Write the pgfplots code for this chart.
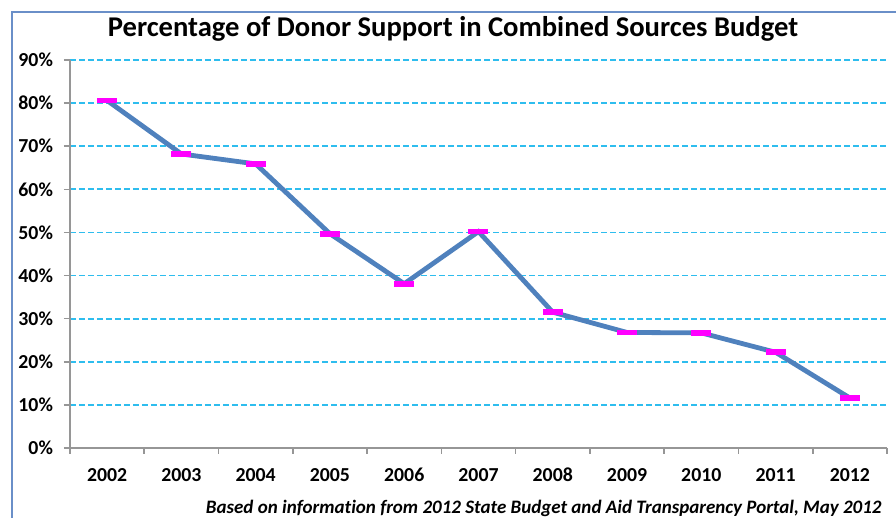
\documentclass[border=0pt]{standalone}
\usepackage{pgfplots}
\pgfplotsset{compat=1.18}
\usepackage{fontspec}
\setmainfont{Carlito}[Ligatures={NoCommon}]
\definecolor{lineblue}{HTML}{4F81BD}
\definecolor{gridcyan}{HTML}{2EBDEE}
\definecolor{framblue}{HTML}{6A8FC8}
\definecolor{axgray}{HTML}{969696}
\definecolor{mkmag}{HTML}{FF00FF}
\begin{document}
\begin{tikzpicture}
\path[use as bounding box] (0,0) rectangle (448pt,259pt);
\draw[framblue, line width=1.2pt] (6pt,-5pt) -- (6pt,253pt) -- (470pt,253pt);
\node[font=\fontsize{14.3}{17}\selectfont\bfseries] at (226.5pt,244.5pt) {Percentage of Donor Support in Combined Sources Budget};
\node[font=\fontsize{9.5}{11}\selectfont\bfseries\itshape, anchor=east, inner sep=0pt] at (441pt,5pt) {Based on information from 2012 State Budget and Aid Transparency Portal, May 2012};
\begin{axis}[
  at={(35pt,35pt)}, anchor=south west,
  scale only axis, width=408.5pt, height=194pt,
  xmin=-0.5, xmax=10.5, ymin=0, ymax=90,
  axis x line=bottom, axis y line=left,
  axis line style={-, draw=axgray, line width=0.8pt},
  xtick={0,...,10},
  xticklabels={2002,2003,2004,2005,2006,2007,2008,2009,2010,2011,2012},
  major x tick style={draw=none},
  minor xtick={-0.5,0.5,...,10.5},
  minor tick length=3pt,
  minor x tick style={draw=axgray, line width=0.8pt},
  ytick={0,10,...,90},
  yticklabels={0\%,10\%,20\%,30\%,40\%,50\%,60\%,70\%,80\%,90\%},
  major tick length=3pt,
  tick align=outside,
  y tick style={draw=axgray, line width=0.8pt},
  ymajorgrids,
  major y grid style={draw=gridcyan, line width=0.9pt, dash pattern=on 3pt off 1.5pt},
  /pgf/number format/assume math mode=true,
  ticklabel style={font=\fontsize{9.9}{11}\selectfont\bfseries},
  xticklabel style={yshift=-3.5pt},
  yticklabel style={xshift=-2pt},
  clip=false,
]
\addplot[lineblue, line width=2.4pt, mark=-, mark size=5pt,
  mark options={draw=mkmag, line width=2.8pt}]
  coordinates {(0,80.6)(1,68.2)(2,65.9)(3,49.7)(4,38.1)(5,50.2)(6,31.5)(7,26.8)(8,26.7)(9,22.2)(10,11.6)};
\end{axis}
\end{tikzpicture}
\end{document}
